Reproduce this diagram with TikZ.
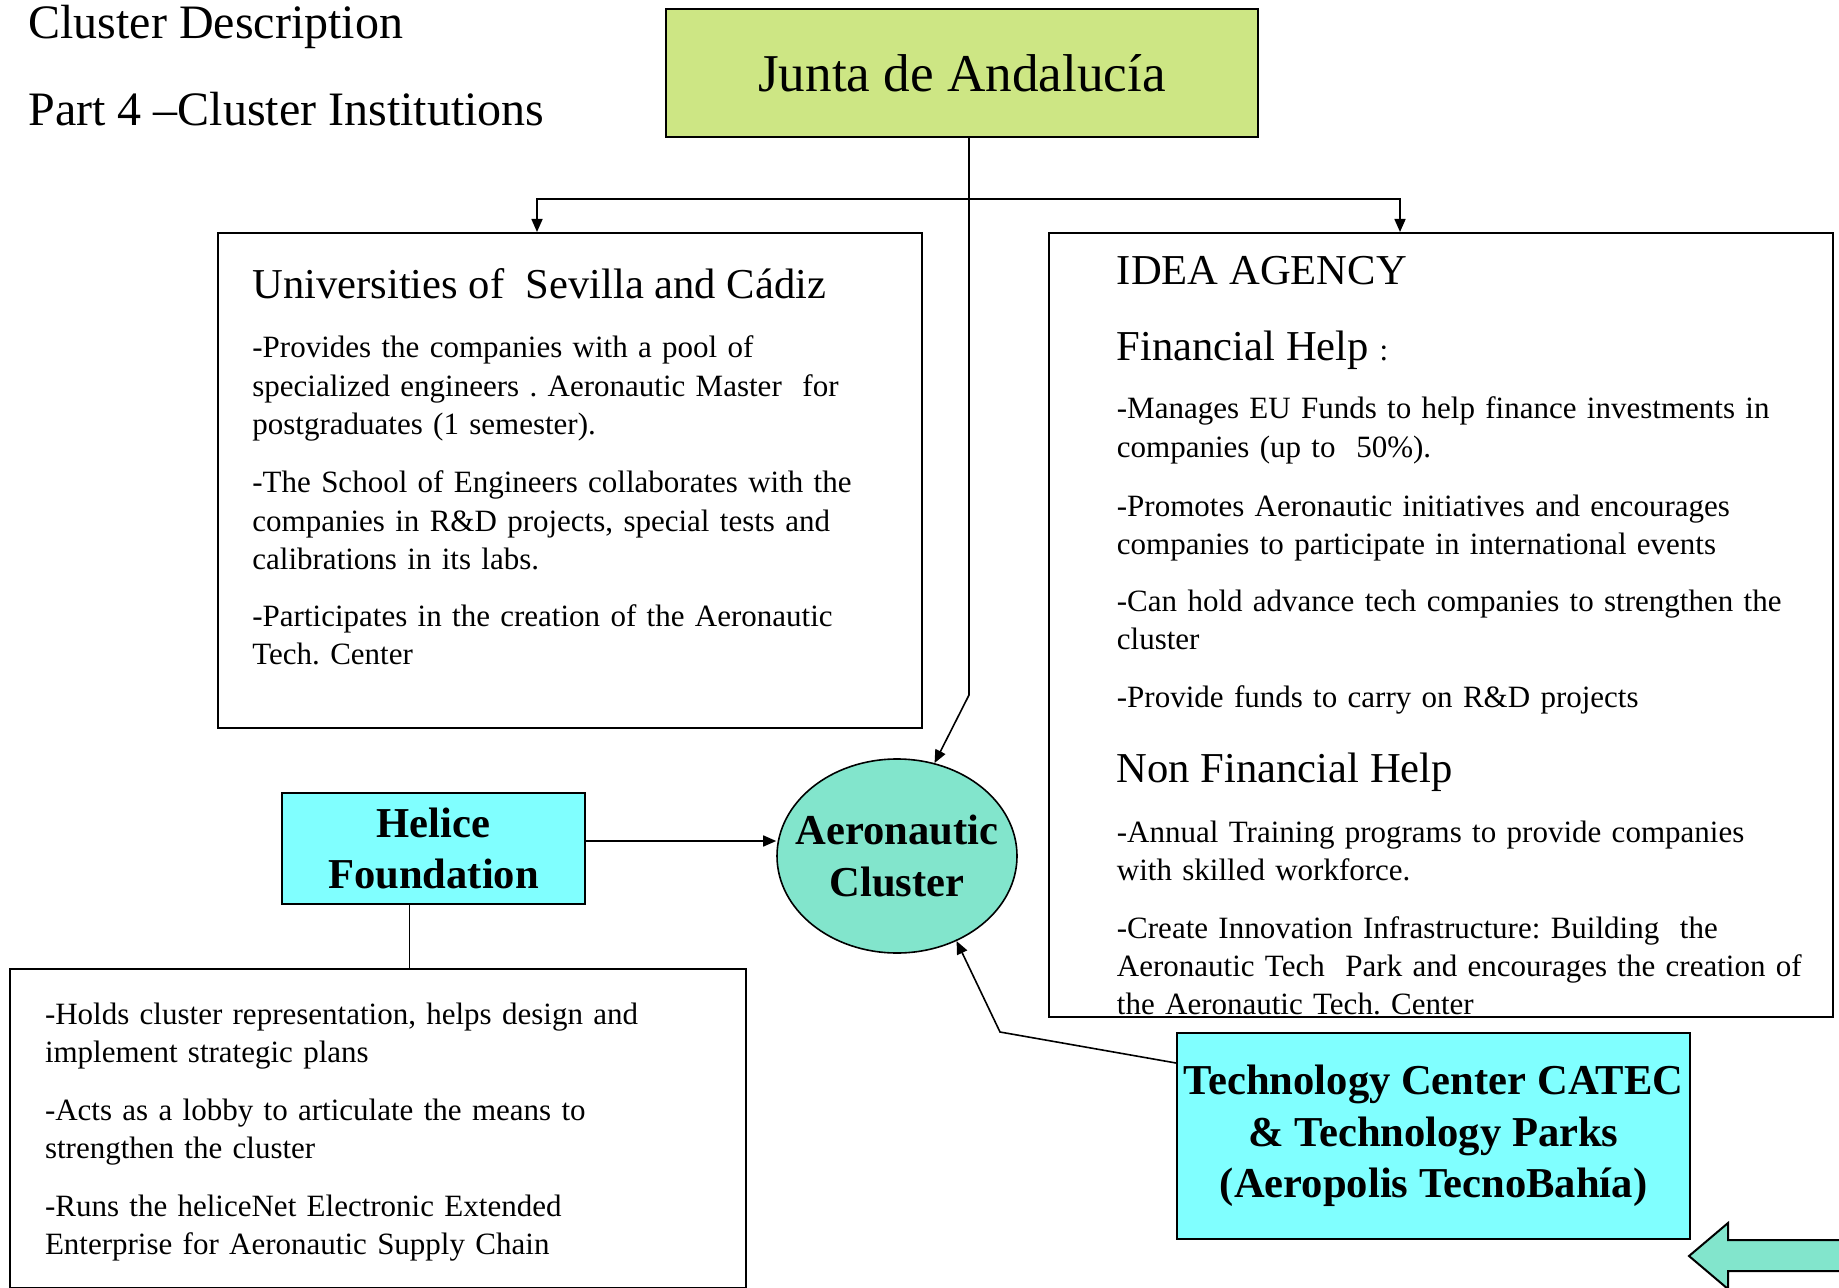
\documentclass[tikz,border=0pt]{standalone}
\usepackage{fontspec}
\setmainfont{Liberation Serif}
\usetikzlibrary{arrows.meta,shapes.geometric}
\definecolor{juntagreen}{RGB}{205,230,132}
\definecolor{helicecyan}{RGB}{128,255,255}
\definecolor{clusteraqua}{RGB}{130,229,204}
\tikzset{
  boxframe/.style={draw,line width=1pt,inner sep=0pt,anchor=north west},
  pagetitle/.style={anchor=base west,inner sep=0pt,font=\fontsize{24}{29}\selectfont},
  heading/.style={anchor=base west,inner sep=0pt,font=\fontsize{21.3}{25}\selectfont},
  body/.style={anchor=base west,inner sep=0pt,text width=400pt,align=left,font=\fontsize{15.5}{19.2}\selectfont},
  boldtitle/.style={align=center,font=\bfseries\fontsize{21.3}{25.8}\selectfont},
  link/.style={line width=0.8pt,-{Triangle[length=6.5pt,width=5.5pt]}},
}
\frenchspacing
\begin{document}
\begin{tikzpicture}[x=0.5pt,y=-0.5pt]
\useasboundingbox (0,0) rectangle (1839,1288);
% titles
\node[pagetitle] (title) at (28,38.7) {Cluster Description};
\node[pagetitle] (subtitle) at (28,125.5) {Part 4 –Cluster Institutions};
% boxes
\node[boxframe,fill=juntagreen,minimum width=296pt,minimum height=64pt,font=\fontsize{26.6}{32}\selectfont] (junta) at (665,8) {Junta de Andalucía};
\node[boxframe,minimum width=352pt,minimum height=247.5pt] (uni) at (217,232) {};
\node[boxframe,minimum width=392pt,minimum height=392pt] (idea) at (1048,232) {};
\node[boxframe,fill=helicecyan,minimum width=151.5pt,minimum height=55.5pt,boldtitle] (helice) at (281,792) {Helice\\Foundation};
\node[boxframe,minimum width=368pt,minimum height=159.5pt] (lobby) at (9,968) {};
\node[boxframe,fill=helicecyan,minimum width=256.5pt,minimum height=103pt,boldtitle] (catec) at (1176,1032) {Technology Center CATEC\\\& Technology Parks\\(Aeropolis TecnoBahía)};
\node[ellipse,draw,line width=0.8pt,fill=clusteraqua,minimum width=120pt,minimum height=97pt,inner sep=0pt] (cluster) at (897,856) {};
\node[boldtitle] (clusterlabel) at (cluster) {Aeronautic\\Cluster};
% universities
\node[heading] (unihead) at (252,299) {Universities of~ Sevilla and Cádiz};
\node[body] (uni1) at (252,357.7) {-Provides the companies with a pool of\\specialized engineers . Aeronautic Master~ for\\postgraduates (1 semester).};
\node[body] (uni2) at (252,492.6) {-The School of Engineers collaborates with the\\companies in R\&D projects, special tests and\\calibrations in its labs.};
\node[body] (uni3) at (252,626.3) {-Participates in the creation of the Aeronautic\\Tech. Center};
% idea agency
\node[heading] (ideahead) at (1116.5,285) {IDEA AGENCY};
\node[heading] (finhead) at (1116.5,361) {Financial Help {\fontsize{15.5}{19}\selectfont:}};
\node[body] (idea1) at (1116.5,418.7) {-Manages EU Funds to help finance investments in\\companies (up to~ 50\%).};
\node[body] (idea2) at (1116.5,516) {-Promotes Aeronautic initiatives and encourages\\companies to participate in international events};
\node[body] (idea3) at (1116.5,611) {-Can hold advance tech companies to strengthen the\\cluster};
\node[body] (idea4) at (1116.5,707) {-Provide funds to carry on R\&D projects};
\node[heading] (nonfinhead) at (1116.5,782) {Non Financial Help};
\node[body] (idea5) at (1116.5,842) {-Annual Training programs to provide companies\\with skilled workforce.};
\node[body] (idea6) at (1116.5,938) {-Create Innovation Infrastructure: Building~ the\\Aeronautic Tech~ Park and encourages the creation of\\the Aeronautic Tech. Center};
% helice foundation
\node[body] (lobby1) at (44.6,1024) {-Holds cluster representation, helps design and\\implement strategic plans};
\node[body] (lobby2) at (44.6,1120) {-Acts as a lobby to articulate the means to\\strengthen the cluster};
\node[body] (lobby3) at (44.6,1216) {-Runs the heliceNet Electronic Extended\\Enterprise for Aeronautic Supply Chain};
% connectors
\coordinate (split) at (969,199);
\coordinate (bend) at (969,695);
\coordinate (knee) at (1000,1032);
\draw[line width=0.8pt] (junta.south -| split) -- (split);
\draw[link] (split) -- (bend) -- (cluster.68);
\draw[link] (split) -| ([xshift=160pt]uni.north west);
\draw[link] (split) -| ([xshift=176pt]idea.north west);
\draw[link] ([yshift=3.75pt]helice.east) -- ([yshift=3.75pt]helice.east -| cluster.west);
\draw[line width=0.8pt] ([xshift=-12pt]helice.south) -- ([xshift=-12pt]helice.south |- lobby.north);
\draw[link] ([yshift=-15.5pt]catec.north west) -- (knee) -- (cluster.-55);
% block arrow
\draw[line width=1pt,fill=clusteraqua] (1689,1256) -- (1728,1223) -- (1728,1240) -- (1860,1240) -- (1860,1271) -- (1728,1271) -- (1728,1289) -- cycle;
\end{tikzpicture}
\end{document}
